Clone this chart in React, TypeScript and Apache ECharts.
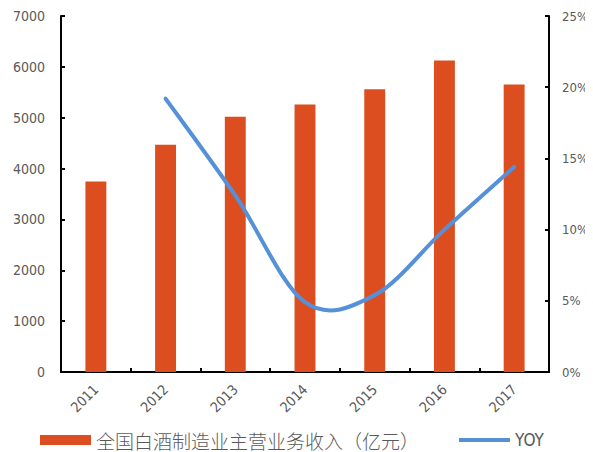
import React, { useEffect, useRef } from "react";
import * as echarts from "echarts";

const years = ["2011", "2012", "2013", "2014", "2015", "2016", "2017"];
const revenue = [3746, 4466, 5018, 5259, 5559, 6126, 5654];
const yoy: (number | null)[] = [null, 19.2, 12.4, 4.9, 5.4, 10.0, 14.4];
const leftTicks = [0, 1000, 2000, 3000, 4000, 5000, 6000, 7000];
const rightTicks = [0, 5, 10, 15, 20, 25];

const BAR_NAME = "全国白酒制造业主营业务收入（亿元）";
const LINE_NAME = "YOY";
const BAR_COLOR = "#DC4E1F";
const LINE_COLOR = "#5590D8";
const numFont = "'DejaVu Sans Condensed', 'Liberation Sans Narrow', sans-serif";
const cjkFont = "'Noto Sans CJK SC', sans-serif";

// Catmull-Rom style smoothing of the YOY points, drawn one bezier segment per point
function renderYoySegment(params: any, api: any) {
  const i = params.dataIndex;
  const pt = (k: number) => {
    const kk = Math.max(0, Math.min(yoy.length - 1, k));
    const v = yoy[kk];
    return v == null ? null : api.coord([kk, v]);
  };
  const p1 = pt(i);
  const p2 = pt(i + 1);
  if (!p1 || !p2 || i + 1 >= yoy.length) return null;
  const p0 = pt(i - 1) || p1;
  const p3 = (i + 2 < yoy.length ? pt(i + 2) : null) || p2;
  const k = 1 / 6;
  return {
    type: "bezierCurve",
    shape: {
      x1: p1[0],
      y1: p1[1],
      x2: p2[0],
      y2: p2[1],
      cpx1: p1[0] + (p2[0] - p0[0]) * k,
      cpy1: p1[1] + (p2[1] - p0[1]) * k,
      cpx2: p2[0] - (p3[0] - p1[0]) * k,
      cpy2: p2[1] - (p3[1] - p1[1]) * k,
    },
    style: { stroke: LINE_COLOR, lineWidth: 4, fill: "none", lineCap: "round" },
  };
}

export default function App() {
  const ref = useRef<HTMLDivElement>(null);

  useEffect(() => {
    if (!ref.current) return;
    const chart = echarts.init(ref.current, null, { renderer: "svg" });
    const axisLine = { show: true, lineStyle: { color: "#000", width: 2 } };
    const axisTick = { show: true, inside: true, length: 4, lineStyle: { color: "#000", width: 2 } };
    const legendText = {
      color: "#595959",
      fontSize: 19,
      lineHeight: 20,
      fontFamily: cjkFont,
      fontWeight: 300,
    };
    chart.setOption({
      animation: false,
      backgroundColor: "#fff",
      grid: { left: 61, right: 44, top: 16, bottom: 80 },
      legend: [
        {
          left: 40,
          top: 430,
          padding: 0,
          itemWidth: 51,
          itemHeight: 10,
          textStyle: legendText,
          data: [{ name: BAR_NAME, icon: "rect" }],
        },
        {
          left: 457,
          top: 430,
          padding: 0,
          itemWidth: 51,
          itemHeight: 10,
          textStyle: { ...legendText, fontFamily: numFont, fontSize: 17 },
          data: [
            {
              name: LINE_NAME,
              itemStyle: { opacity: 0 },
              lineStyle: { color: LINE_COLOR, width: 4, opacity: 1 },
            },
          ],
        },
      ],
      xAxis: {
        type: "category",
        data: years,
        axisLine,
        axisTick,
        axisLabel: {
          rotate: 45,
          color: "#595959",
          fontSize: 14,
          fontFamily: numFont,
          margin: 15,
        },
      },
      yAxis: [
        {
          type: "value",
          min: 0,
          max: 7000,
          interval: 1000,
          splitLine: { show: false },
          axisLine,
          axisTick,
          axisLabel: {
            color: "#595959",
            fontSize: 14,
            fontFamily: numFont,
            margin: 16,
            formatter: (v: number) => (leftTicks.includes(v) ? String(v) : ""),
          },
        },
        {
          type: "value",
          min: 0,
          max: 25,
          interval: 5,
          position: "right",
          splitLine: { show: false },
          axisLine,
          axisTick,
          axisLabel: {
            color: "#595959",
            fontSize: 13,
            fontFamily: numFont,
            margin: 13,
            formatter: (v: number) => (rightTicks.includes(v) ? v + "%" : ""),
          },
        },
      ],
      series: [
        {
          name: BAR_NAME,
          type: "bar",
          data: revenue,
          barWidth: "30%",
          itemStyle: { color: BAR_COLOR },
        },
        {
          // carries the YOY legend entry; the visible curve is the custom series below
          name: LINE_NAME,
          type: "line",
          yAxisIndex: 1,
          data: yoy,
          symbol: "none",
          silent: true,
          lineStyle: { color: LINE_COLOR, width: 4, opacity: 0 },
          itemStyle: { color: LINE_COLOR },
        },
        {
          name: "YOY curve",
          type: "custom",
          yAxisIndex: 1,
          renderItem: renderYoySegment,
          data: yoy.map((v, i) => [i, v == null ? 0 : v]),
          encode: { x: 0, y: 1 },
          z: 3,
        },
      ],
    });
    return () => chart.dispose();
  }, []);

  return <div ref={ref} style={{ width: 593, height: 452, marginLeft: -8, marginTop: -8 }} />;
}
